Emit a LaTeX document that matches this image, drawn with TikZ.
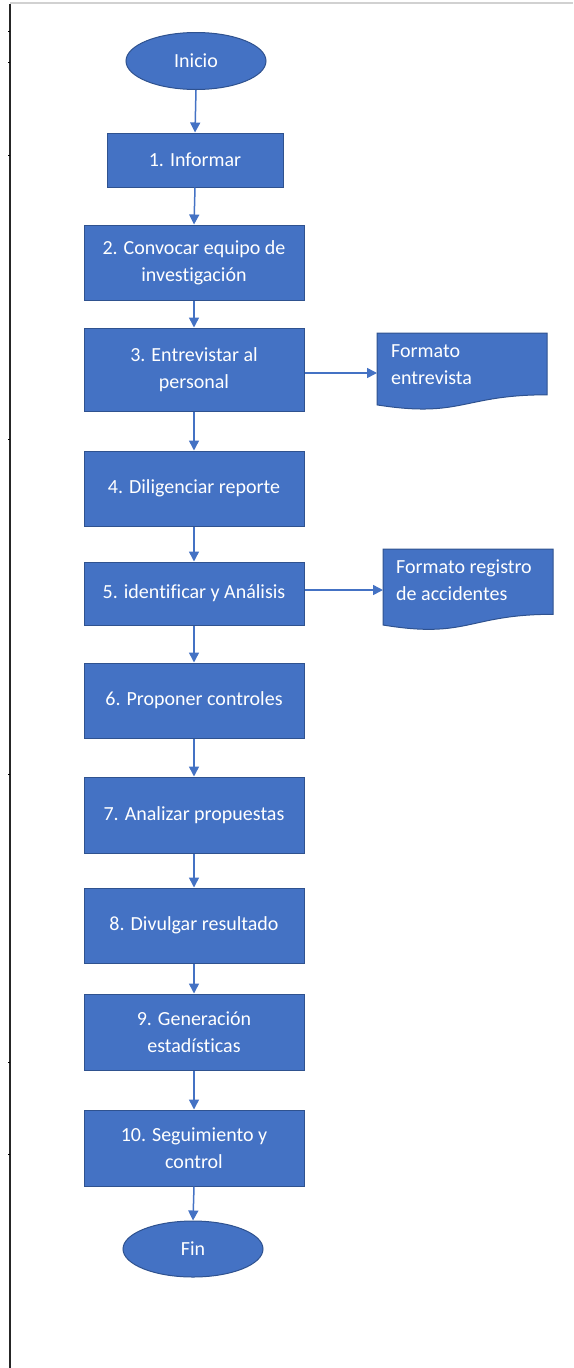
\documentclass[tikz,border=0pt]{standalone}
\usepackage{fontspec}
\setmainfont{Carlito}[Ligatures=NoCommon]
\usetikzlibrary{arrows.meta,shapes.geometric}
\definecolor{ofblue}{HTML}{4472C4}
\definecolor{ofedge}{HTML}{2F528F}
\begin{document}
\begin{tikzpicture}[x=1pt,y=-1pt,
 procbox/.style={rectangle,draw=ofedge,line width=1pt,fill=ofblue,text=white,font=\fontsize{20}{27}\selectfont,align=center,minimum width=220pt,inner sep=0pt},
 term/.style={ellipse,draw=ofedge,line width=1pt,fill=ofblue,text=white,font=\fontsize{20}{27}\selectfont,minimum width=140pt,minimum height=57pt,inner sep=0pt},
 docshape/.style={draw=ofedge,line width=1pt,fill=ofblue},
 doctext/.style={text=white,font=\fontsize{20}{27}\selectfont,align=left,inner sep=0pt,anchor=north west},
 flow/.style={draw=ofblue,line width=1.5pt,-{Triangle[length=10pt,width=10pt]}},
 frame/.style={line width=1.5pt}
]
\useasboundingbox (0,0) rectangle (573,1368);
% page frame
\draw[frame,black!85] (10,4) -- (10,1368);
\draw[frame,black!18] (10,3) -- (573,3);
\foreach \ty in {31,62,155,439,774,1062,1154}{
  \draw[black,line width=1pt] (8,\ty) -- (10,\ty);
}
% main flow
\node[term] (inicio) at (196,61) {Inicio};
\node[procbox,minimum width=176pt,minimum height=54pt] (b1) at (195,160) {1. Informar};
\node[procbox,minimum height=75pt] (b2) at (194,262.5) {2. Convocar equipo de\\investigación};
\node[procbox,minimum height=83pt] (b3) at (194,369.5) {3. Entrevistar al\\personal};
\node[procbox,minimum height=75pt] (b4) at (194,488.5) {4. Diligenciar reporte};
\node[procbox,minimum height=63pt] (b5) at (194,593.5) {5. identificar y Análisis};
\node[procbox,minimum height=75pt] (b6) at (194,700.5) {6. Proponer controles};
\node[procbox,minimum height=76pt] (b7) at (194,815) {7. Analizar propuestas};
\node[procbox,minimum height=75pt] (b8) at (194,925.5) {8. Divulgar resultado};
\node[procbox,minimum height=76pt] (b9) at (194,1032) {9. Generación\\estadísticas};
\node[procbox,minimum height=76pt] (b10) at (194,1148) {10. Seguimiento y\\control};
\node[term,minimum height=56pt] (fin) at (193,1249) {Fin};
% documents
\path[docshape] (377,333) -- (547,333) -- (547,394.8)
  .. controls (462,394.8) and (462,418.3) .. (377,404.9) -- cycle;
\node[doctext] (fmt1) at (391,344) {Formato\\entrevista};
\coordinate (doc1in) at (377,373);
\path[docshape] (383,549) -- (553,549) -- (553,614.3)
  .. controls (468,614.3) and (468,639.1) .. (383,625) -- cycle;
\node[doctext] (fmt2) at (396,560) {Formato registro\\de accidentes};
\coordinate (doc2in) at (383,590);
% connectors
\draw[flow] (inicio.south) -- (b1.north);
\draw[flow] (b1.south) -- (b2.north);
\draw[flow] (b2.south) -- (b3.north);
\draw[flow] (b3.south) -- (b4.north);
\draw[flow] (b4.south) -- (b5.north);
\draw[flow] (b5.south) -- (b6.north);
\draw[flow] (b6.south) -- (b7.north);
\draw[flow] (b7.south) -- (b8.north);
\draw[flow] (b8.south) -- (b9.north);
\draw[flow] (b9.south) -- (b10.north);
\draw[flow] (b10.south) -- (fin.north);
\draw[flow] (b3.east |- doc1in) -- (doc1in);
\draw[flow] (b5.east |- doc2in) -- (doc2in);
\end{tikzpicture}
\end{document}
